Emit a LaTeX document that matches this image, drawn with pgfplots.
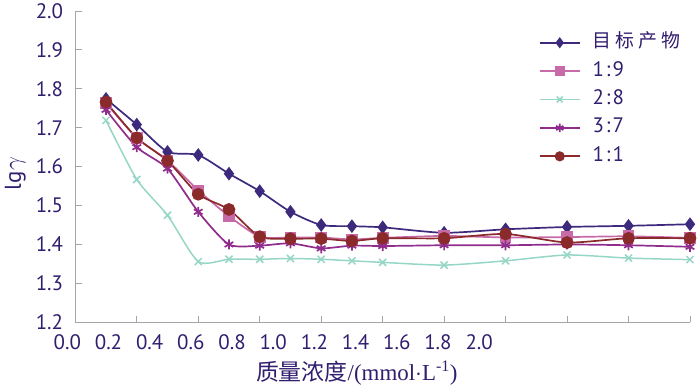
\documentclass[border=0pt]{standalone}
\usepackage{pgfplots}
\pgfplotsset{compat=1.18}
\usepackage{fontspec}
\setmainfont{PT Sans}
\newfontfamily\cjk{Noto Sans CJK SC}
\newfontfamily\serif{Liberation Serif}
\definecolor{txt}{RGB}{50,30,110}
\definecolor{cA}{RGB}{61,42,125}
\definecolor{cB}{RGB}{200,106,168}
\definecolor{cC}{RGB}{150,214,198}
\definecolor{cD}{RGB}{144,45,140}
\definecolor{cE}{RGB}{139,42,42}
\definecolor{axgray}{RGB}{165,165,165}
\begin{document}
\begin{tikzpicture}
\path[use as bounding box] (-75.3bp,-62.7bp) rectangle (624.7bp,322.3bp);
\begin{axis}[
  at={(0,0)}, anchor=south west,
  scale only axis, width=614.7bp, height=311.3bp,
  xmin=0, xmax=10, ymin=1.2, ymax=2.0,
  axis x line=bottom, axis y line=left,
  axis line style={-, draw=axgray, line width=0.9bp},
  tick align=inside, major tick length=6.5bp,
  tick style={draw=axgray, line width=0.9bp},
  xtick={0,1,2,3,4,5,6,7,8,9,10}, xticklabels={},
  ytick={1.2,1.3,1.4,1.5,1.6,1.7,1.8,1.9,2.0},
  yticklabel style={font=\fontsize{21}{24}\selectfont, text=txt, inner sep=0pt, xshift=-12bp,
    /pgf/number format/.cd, fixed, fixed zerofill, precision=1, assume math mode=true},
  clip=false,
  xlabel={{\cjk 质量浓度}{\serif /(mmol$\cdot$L\textsuperscript{-1})}},
  xlabel style={at={(axis description cs:0.458,0)}, anchor=center, yshift=-51bp,
    font=\fontsize{23}{26}\selectfont, text=txt},
  ylabel={lg\kern1bp$\gamma$},
  ylabel style={at={(axis description cs:-0.0976,0.479)}, anchor=center,
    font=\fontsize{23}{26}\selectfont, text=txt},
  legend style={draw=none, fill=none, at={(axis description cs:0.749,0.934)}, anchor=north west,
    font=\fontsize{21}{24}\selectfont, text=txt,
    nodes={inner sep=0pt, text height=14bp, text depth=4bp},
    row sep=10.4bp, column sep=12bp},
  legend cell align=left,
  legend image code/.code={\draw[mark repeat=2, mark phase=2, mark size=4.2bp] plot coordinates {(0bp,0bp) (20bp,0bp) (40bp,0bp)};},
  every axis plot/.append style={line width=1.7bp, smooth, tension=0.4},
]
\addplot[color=cA, mark=diamond*, mark size=5.5bp] coordinates {
 (0.5,1.774) (1,1.708) (1.5,1.638) (2,1.630) (2.5,1.582) (3,1.537) (3.5,1.484) (4,1.450) (4.5,1.447) (5,1.444)
 (6,1.430) (7,1.439) (8,1.445) (9,1.448) (10,1.452)};
\addlegendentry{{\cjk\fontsize{19}{22}\selectfont 目\kern4bp 标\kern4bp 产\kern4bp 物}}
\addplot[color=cB, mark=square*, mark size=5bp] coordinates {
 (0.5,1.763) (1,1.674) (1.5,1.616) (2,1.539) (2.5,1.473) (3,1.420) (3.5,1.418) (4,1.418) (4.5,1.413) (5,1.417)
 (6,1.422) (7,1.418) (8,1.419) (9,1.421) (10,1.417)};
\addlegendentry{1\kern2bp:\kern2bp 9}
\addplot[color=cC, mark=x, mark size=5bp, line width=1.5bp] coordinates {
 (0.5,1.719) (1,1.567) (1.5,1.475) (2,1.356) (2.5,1.362) (3,1.362) (3.5,1.364) (4,1.362) (4.5,1.358) (5,1.354)
 (6,1.347) (7,1.358) (8,1.373) (9,1.365) (10,1.361)};
\addlegendentry{2\kern2bp:\kern2bp 8}
\addplot[color=cD, mark=asterisk, mark size=5bp] coordinates {
 (0.5,1.746) (1,1.650) (1.5,1.595) (2,1.484) (2.5,1.400) (3,1.397) (3.5,1.403) (4,1.390) (4.5,1.397) (5,1.396)
 (6,1.398) (7,1.398) (8,1.400) (9,1.398) (10,1.394)};
\addlegendentry{3\kern2bp:\kern2bp 7}
\addplot[color=cE, mark=*, mark size=5.5bp] coordinates {
 (0.5,1.766) (1,1.674) (1.5,1.615) (2,1.529) (2.5,1.490) (3,1.420) (3.5,1.415) (4,1.415) (4.5,1.409) (5,1.416)
 (6,1.416) (7,1.427) (8,1.405) (9,1.416) (10,1.416)};
\addlegendentry{1\kern2bp:\kern2bp 1}
\tikzset{tl/.style={font=\fontsize{21}{24}\selectfont, text=txt, anchor=center, yshift=-19.4bp}}
\node[tl] at (axis cs:-0.130,1.2) {0.0};
\node[tl] at (axis cs:0.540,1.2) {0.2};
\node[tl] at (axis cs:1.210,1.2) {0.4};
\node[tl] at (axis cs:1.880,1.2) {0.6};
\node[tl] at (axis cs:2.550,1.2) {0.8};
\node[tl] at (axis cs:3.220,1.2) {1.0};
\node[tl] at (axis cs:3.890,1.2) {1.2};
\node[tl] at (axis cs:4.560,1.2) {1.4};
\node[tl] at (axis cs:5.230,1.2) {1.6};
\node[tl] at (axis cs:5.900,1.2) {1.8};
\node[tl] at (axis cs:6.570,1.2) {2.0};
\end{axis}
\end{tikzpicture}
\end{document}
